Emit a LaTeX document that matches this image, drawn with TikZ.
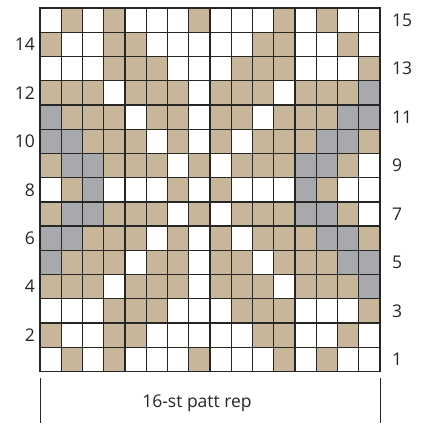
\documentclass[tikz,border=0pt]{standalone}
\usepackage{fontspec}
\setmainfont{Open Sans}
\usepackage{tikz}
\definecolor{cW}{RGB}{255,255,255}
\definecolor{cT}{RGB}{200,182,155}
\definecolor{cG}{RGB}{167,169,172}

\begin{document}
\begin{tikzpicture}[
    x=1pt, y=1pt,
    cell/.style={draw=black!85, line width=1.3pt},
    rownum/.style={font=\fontsize{17.5}{20}\selectfont, text=black!85, inner sep=0pt},
    replabel/.style={font=\fontsize{17.5}{20}\selectfont, text=black!85},
    bracket/.style={draw=black!85, line width=0.9pt}
]
    \useasboundingbox (0,0) rectangle (425,423);

    % Chart cells: row 1 at the bottom, W = white, T = tan, G = grey
    \foreach \r/\row in {
        1/{W,T,W,T,W,W,W,T,W,W,W,T,W,T,W,W},
        2/{T,W,W,T,T,W,W,W,W,W,T,T,W,W,T,W},
        3/{W,W,W,T,T,T,W,W,W,T,T,T,W,W,W,T},
        4/{T,T,T,W,T,T,T,W,T,T,T,W,T,T,T,G},
        5/{G,T,T,T,W,T,T,W,T,T,W,T,T,T,G,G},
        6/{G,G,T,T,T,W,T,W,T,W,T,T,T,G,G,T},
        7/{T,G,G,T,T,T,W,T,W,T,T,T,G,G,T,W},
        8/{W,T,G,W,W,W,T,W,T,W,W,W,G,T,W,W},
        9/{T,G,G,T,T,T,W,T,W,T,T,T,G,G,T,W},
        10/{G,G,T,T,T,W,T,W,T,W,T,T,T,G,G,T},
        11/{G,T,T,T,W,T,T,W,T,T,W,T,T,T,G,G},
        12/{T,T,T,W,T,T,T,W,T,T,T,W,T,T,T,G},
        13/{W,W,W,T,T,T,W,W,W,T,T,T,W,W,W,T},
        14/{T,W,W,T,T,W,W,W,W,W,T,T,W,W,T,W},
        15/{W,T,W,T,W,W,W,T,W,W,W,T,W,T,W,W}}{
        \foreach \k [count=\c] in \row
            \draw[cell, fill=c\k] ({40+(\c-1)*21.25}, {51.5+(\r-1)*24.23}) rectangle ++(21.25,24.23);
    }

    % Row numbers: even on the left, odd on the right
    \foreach \r in {2,4,...,14}
        \node[rownum, anchor=east] (row\r) at (35, {51.5+(\r-0.5)*24.23}) {\r};
    \foreach \r in {1,3,...,15}
        \node[rownum, anchor=west] (row\r) at (392, {51.5+(\r-0.5)*24.23}) {\r};

    % Repeat bracket
    \coordinate (repL) at (40,45);
    \coordinate (repR) at (380,45);
    \draw[bracket] (repL) -- ++(0,-45);
    \draw[bracket] (repR) -- ++(0,-45);
    \node[replabel] (rep) at (197,20) {16-st patt rep};

\end{tikzpicture}
\end{document}
